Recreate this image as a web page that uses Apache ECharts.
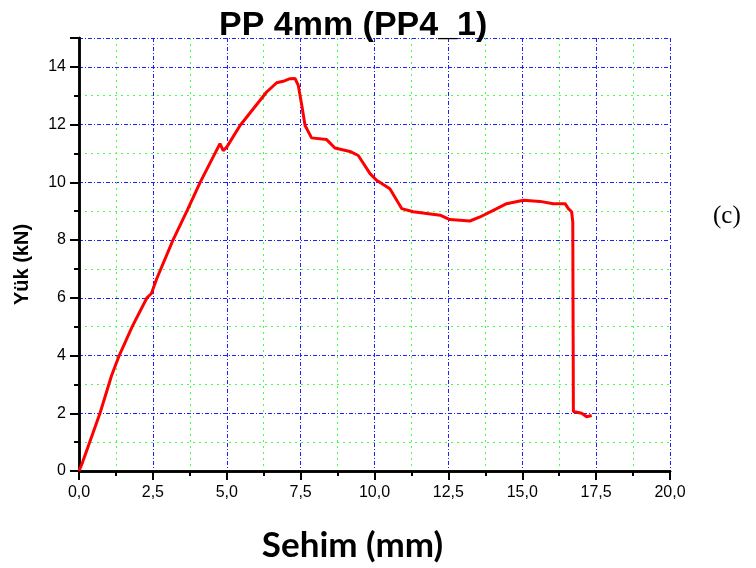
<!DOCTYPE html>
<html>
<head>
    <meta charset="utf-8">
    <title>PP 4mm (PP4_1)</title>
    <script src="https://cdn.jsdelivr.net/npm/echarts@6/dist/echarts.min.js"></script>
    <style>
        html, body { margin: 0; padding: 0; background: #fff; }
    </style>
</head>
<body>
    <div id="chart" style="width: 756px;height:568px;"></div>
    <script type="text/javascript">
        // ----- data -----
        var deflection = [0, 0.12, 0.71, 1.1, 1.36, 1.8, 2.3, 2.45, 2.63, 3.18, 3.65, 4.1, 4.45, 4.77, 4.88, 5.0,
            5.45, 5.9, 6.35, 6.69, 6.91, 7.14, 7.31, 7.42, 7.54, 7.65, 7.87, 8.38, 8.66, 9.17, 9.45, 9.85,
            10.07, 10.52, 10.92, 11.31, 12.22, 12.55, 13.23, 13.57, 14.02, 14.47, 15.04, 15.6, 16.05, 16.45,
            16.56, 16.67, 16.71, 16.73, 17.01, 17.18, 17.35];
        var load = [0, 0.3, 2.0, 3.3, 4.0, 5.0, 6.0, 6.15, 6.66, 8.0, 9.0, 10.0, 10.7, 11.34, 11.1, 11.22,
            11.97, 12.55, 13.13, 13.45, 13.5, 13.59, 13.6, 13.36, 12.66, 11.97, 11.54, 11.48, 11.19, 11.07, 10.93, 10.3,
            10.07, 9.78, 9.09, 8.98, 8.86, 8.71, 8.66, 8.8, 9.03, 9.26, 9.38, 9.34, 9.26, 9.26,
            9.09, 8.98, 8.63, 2.06, 2.0, 1.88, 1.92];

        var xRange = [0, 20];
        var xStep = 2.5;
        var yRange = [0, 15];
        var yStep = 2;

        var points = deflection.map(function (d, i) { return [d, load[i]]; });

        // grid line styles
        var majorGrid = { show: true, lineStyle: { color: '#2020ff', width: 1, type: [4, 2, 1, 2] } };
        var minorGrid = { show: true, lineStyle: { color: '#44ff44', width: 1, type: [2, 4] } };
        var tickLine = { color: '#000', width: 2 };
        var frameLine = { show: true, lineStyle: { color: '#000', width: 2.5 } };

        function commaLabel(v) {
            return v.toFixed(1).replace('.', ',');
        }

        var chart = echarts.init(document.getElementById('chart'));
        var option = {
            backgroundColor: '#fff',
            animation: false,
            title: {
                text: 'PP 4mm (PP4_1)',
                left: 214,
                top: 4,
                textStyle: {
                    fontFamily: 'Liberation Sans',
                    fontWeight: 'bold',
                    fontSize: 34,
                    color: '#000'
                }
            },
            graphic: [{
                type: 'text',
                left: 713,
                top: 204,
                style: {
                    text: '(c)',
                    fontFamily: 'Liberation Serif',
                    fontSize: 25,
                    fill: '#000'
                }
            }],
            grid: { left: 79, right: 86, top: 38, bottom: 95, containLabel: false },
            xAxis: [{
                type: 'value',
                position: 'bottom',
                min: xRange[0], max: xRange[1], interval: xStep,
                name: 'Sehim (mm)',
                nameLocation: 'middle',
                nameGap: 57,
                nameTextStyle: {
                    fontFamily: 'Lato', fontWeight: 'bold', fontSize: 35, color: '#000',
                    padding: [0, 44, 0, 0]
                },
                axisLine: frameLine,
                axisTick: { show: true, inside: false, length: 8, lineStyle: tickLine },
                minorTick: { show: true, splitNumber: 2, length: 5, lineStyle: tickLine },
                axisLabel: {
                    formatter: commaLabel, margin: 14,
                    fontFamily: 'Liberation Sans', fontSize: 16, color: '#000'
                },
                splitLine: majorGrid,
                minorSplitLine: minorGrid
            }, {
                type: 'value',
                position: 'top',
                min: xRange[0], max: xRange[1], interval: xStep,
                axisLine: frameLine,
                axisTick: { show: true, inside: true, length: 9, lineStyle: tickLine },
                minorTick: { show: true, splitNumber: 2, length: 5, lineStyle: tickLine },
                axisLabel: { show: false },
                splitLine: { show: false }
            }],
            yAxis: [{
                type: 'value',
                position: 'left',
                min: yRange[0], max: yRange[1], interval: yStep,
                name: 'Yük (kN)',
                nameLocation: 'middle',
                nameGap: 47,
                nameTextStyle: {
                    fontFamily: 'Liberation Sans', fontWeight: 'bold', fontSize: 20, color: '#000',
                    padding: [0, 20, 0, 0]
                },
                axisLine: frameLine,
                axisTick: { show: true, inside: false, length: 8, lineStyle: tickLine },
                minorTick: { show: true, splitNumber: 2, length: 5, lineStyle: tickLine },
                axisLabel: {
                    showMaxLabel: false, margin: 13,
                    fontFamily: 'Liberation Sans', fontSize: 16, color: '#000'
                },
                splitLine: majorGrid,
                minorSplitLine: minorGrid
            }, {
                type: 'value',
                position: 'right',
                min: yRange[0], max: yRange[1], interval: yStep,
                axisLine: frameLine,
                axisTick: { show: true, inside: true, length: 9, lineStyle: tickLine },
                minorTick: { show: true, splitNumber: 2, length: 5, lineStyle: tickLine },
                axisLabel: { show: false },
                splitLine: { show: false }
            }],
            series: [{
                type: 'line',
                data: points,
                showSymbol: false,
                symbol: 'none',
                smooth: false,
                lineStyle: { color: '#ff0000', width: 3 }
            }]
        };
        chart.setOption(option);
    </script>
</body>
</html>
